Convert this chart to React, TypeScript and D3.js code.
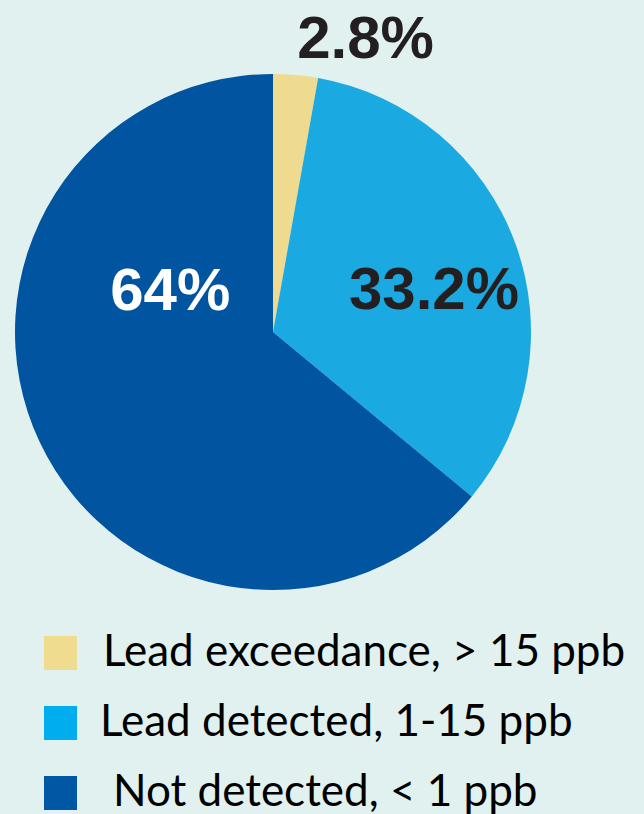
import { useMemo } from 'react';
import * as d3 from 'd3';

const categories = ['Lead exceedance, > 15 ppb', 'Lead detected, 1-15 ppb', 'Not detected, < 1 ppb'];
const values = [2.8, 33.2, 64];
const valueLabels = ['2.8%', '33.2%', '64%'];
const sliceColors = ['#eedb8f', '#1aa9e0', '#0054a0'];
const swatchColors = ['#efdc8e', '#00aeef', '#0057a4'];
const labelColors = ['#231f20', '#231f20', '#ffffff'];

// label anchors: angle (deg, clockwise from top) and radius as a fraction of the pie radius
const labelAngles = [17.4, 74.7, 292.7];
const labelRadii = [1.2, 0.647, 0.432];

export default function App() {
  const width = 644;
  const height = 814;
  const cx = 273;
  const cy = 332;
  const radius = 258;

  const arcs = useMemo(
    () =>
      d3
        .pie<number>()
        .sort(null)
        .value((d) => d)(values),
    []
  );

  const arc = d3.arc<d3.PieArcDatum<number>>().innerRadius(0).outerRadius(radius);

  const legendY = d3.scaleBand<number>().domain([0, 1, 2]).range([618, 828]);

  return (
    <div style={{ position: 'fixed', left: 0, top: 0 }}>
      <svg width={width} height={height} style={{ display: 'block' }}>
        <rect width={width} height={height} fill="#e1f1f0" />
        <g transform={`translate(${cx},${cy})`}>
          {arcs.map((a, i) => (
            <path key={i} d={arc(a) || ''} fill={sliceColors[i]} />
          ))}
          {valueLabels.map((t, i) => {
            const ang = (labelAngles[i] * Math.PI) / 180;
            const r = labelRadii[i] * radius;
            return (
              <text
                key={t}
                x={Math.sin(ang) * r}
                y={-Math.cos(ang) * r}
                dy="0.35em"
                textAnchor="middle"
                fontFamily="'Liberation Sans', Arial, sans-serif"
                fontWeight="bold"
                fontSize={60}
                fill={labelColors[i]}
              >
                {t}
              </text>
            );
          })}
        </g>
        {categories.map((c, i) => {
          const y0 = legendY(i)! + 18;
          return (
            <g key={c}>
              <rect x={44} y={y0} width={33} height={34} fill={swatchColors[i]} />
              <text
                x={i === 2 ? 113 : i === 1 ? 100 : 103}
                y={y0 + 30}
                fontFamily="Lato, 'Open Sans', sans-serif"
                fontSize={44}
                fill="#000"
              >
                {c}
              </text>
            </g>
          );
        })}
      </svg>
    </div>
  );
}
